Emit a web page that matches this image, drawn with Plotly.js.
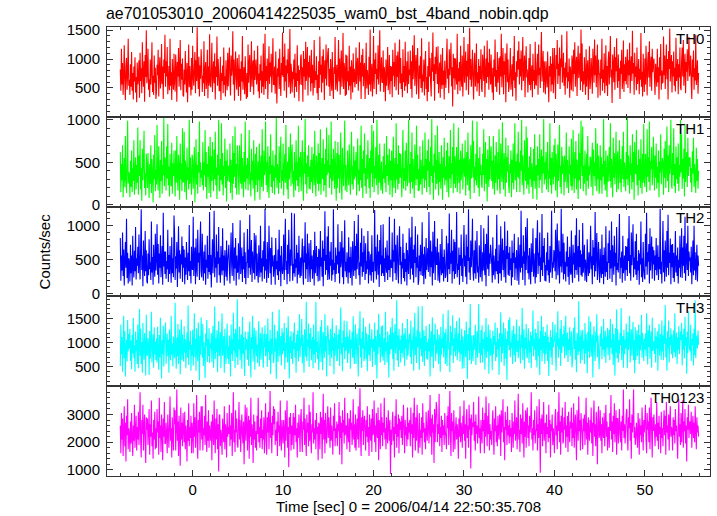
<!DOCTYPE html>
<html><head><meta charset="utf-8">
<script src="https://cdn.plot.ly/plotly-3.0.1.min.js"></script>
<style>html,body{margin:0;padding:0;background:#fff}#plot{width:717px;height:516px}</style>
</head><body><div id="plot"></div>
<script>
// bin layout of the light curve (seconds)
const tStart = -8.0;
const binWidth = 0.0625;

const bandNames = ["TH0", "TH1", "TH2", "TH3", "TH0123"];
const bandColors = ["#ff0000", "#00ff00", "#0000ff", "#00ffff", "#ff00ff"];
const plotTitle = "ae701053010_20060414225035_wam0_bst_4band_nobin.qdp";
const xTitle = "Time [sec] 0 = 2006/04/14 22:50:35.708";
const yTitle = "Counts/sec";

const th0 = [
820,450,1180,560,930,380,710,1240,610,290,880,1020,470,760,1350,540,
640,380,910,520,1120,450,760,300,870,610,1030,420,690,250,940,560,
680,980,330,1110,620,840,410,1290,750,520,960,260,1070,690,1500,580,
780,1180,470,650,340,990,560,820,1290,430,710,380,1060,590,850,310,
430,900,720,1160,350,810,1030,490,640,1260,570,870,310,990,760,1420,
520,960,700,1210,390,610,880,460,1350,540,770,290,1000,630,470,1090,
600,440,1080,830,260,950,700,1190,520,780,1330,460,920,640,1010,370,
350,820,560,1140,680,420,930,250,740,1250,510,880,600,370,1020,470,
1230,690,540,860,1120,410,980,620,1550,730,480,1040,350,890,660,1170,
900,430,710,580,1310,360,800,950,480,660,1160,320,870,540,1430,610,
510,800,1280,430,740,960,580,1100,300,870,690,1390,540,1000,780,450,
450,1040,290,760,620,890,410,1200,550,700,350,980,670,460,1110,530,
930,1200,620,370,1060,710,840,1480,560,990,280,820,1130,650,470,1020,
740,360,1080,520,830,280,960,610,1400,470,720,860,390,1050,580,310,
760,340,1250,590,910,1070,430,700,1310,520,850,980,380,1150,640,790,
990,560,680,1230,440,750,320,910,630,1060,410,790,520,1270,380,680,
1440,480,880,620,1010,310,760,1220,570,940,700,1090,420,830,1360,560,
560,870,400,1130,610,230,840,700,1010,480,1180,590,360,930,720,1460,
690,1040,450,1270,610,890,330,990,750,1180,510,640,1520,400,920,780,
420,780,650,990,330,1090,520,760,430,1240,620,890,270,810,560,1020,
1080,550,860,260,1140,700,1000,470,1300,620,810,1210,370,950,680,1060,
710,440,1160,580,900,370,680,1330,500,790,640,1050,410,730,290,960,
500,1390,730,900,420,1050,590,1170,820,290,980,660,1250,540,870,1110,
1190,520,830,360,1000,690,450,1120,580,310,860,740,1380,470,650,900,
440,760,1330,610,1010,380,860,1150,520,720,1450,480,930,800,360,1080,
380,1060,610,790,460,1230,540,870,300,980,720,420,1100,600,830,510,
640,1200,570,890,1020,450,780,1290,610,940,310,1070,700,1180,530,860,
930,310,700,1280,490,810,650,380,1040,560,1510,440,760,920,350,680,
1400,480,990,740,1110,390,830,650,1240,560,920,1500,440,760,1030,600,
590,1150,430,860,720,270,990,540,780,1210,460,640,1070,390,880,620,
870,340,1160,710,950,520,1280,800,460,1060,690,1130,380,910,1340,580,
1020,480,750,340,1170,600,880,450,1300,530,700,960,410,1130,570,820,
720,1150,480,960,330,1240,650,870,1410,540,800,1070,390,930,1190,610,
310,890,660,1050,500,1360,420,730,610,990,370,850,1140,480,690,270,
880,430,1300,700,1020,560,350,1110,780,1460,620,910,280,1040,740,1210,
860,570,1220,410,760,940,330,1080,620,480,1190,550,800,300,970,640,
500,990,1350,660,830,410,1170,720,950,1280,530,860,180,1090,670,1020,
470,1010,720,560,1440,390,840,610,950,450,1230,680,520,1060,350,780,
1380,590,820,1130,460,970,700,1260,380,850,1540,640,1000,520,780,1160,
640,300,930,1110,520,690,1270,440,770,580,1000,360,880,650,1170,490,
430,1080,900,620,1230,340,760,1010,580,1320,690,940,470,1180,810,560,
1080,610,420,850,290,990,700,1340,520,810,430,1120,590,740,1020,380,
1050,700,1440,510,880,1190,390,960,730,1100,250,870,1270,600,990,430,
530,800,1190,470,660,910,350,1050,630,1400,500,770,280,960,690,1150,
820,1310,560,1000,700,1150,460,890,1380,620,770,1060,340,930,1220,680,
820,420,670,1020,550,1260,460,730,890,340,1090,620,810,480,1300,570,
540,910,1090,380,1250,720,850,500,1030,1470,610,800,1140,420,960,740,
390,960,720,510,1130,630,250,880,700,1050,440,920,560,1190,410,750,
1190,650,310,1070,830,1330,570,920,710,1200,480,1010,860,1420,590,780,
1110,540,850,380,940,680,1480,490,770,610,1010,330,870,720,460,1060,
970,440,1160,740,1290,520,880,1040,360,940,1230,670,810,1100,460,1510,
610,1270,430,790,560,1030,700,380,1170,520,840,980,290,760,1220,480,
630,1020,780,400,1180,900,590,1340,720,1060,510,870,1250,330,990,760,
730,370,990,660,1350,450,820,590,1100,410,700,1240,540,880,360,950,
1130,560,950,1400,680,820,240,1080,910,600,1210,470,1030,790,1360,640,
500,1080,620,840,310,970,740,1160,480,650,1320,430,910,620,1040,560,
850,1170,500,980,720,1280,410,890,1050,620,1490,750,930,380,1110,690,
870,460,1200,570,710,1000,390,830,640,1450,520,780,350,1090,680,430,
1010,560,1230,800,370,960,1120,680,1310,520,870,1040,450,1180,770,940,
1010,640,380,920,770,520,1180,600,860,300,1030,710,1260,470,800,580,
600,1390,720,1060,480,890,1250,650,1000,300,1140,830,1530,610,920,1070,
420,960,700,1130,540,850,440,1370,620,760,1000,390,910,680,1200,510,
460,980,1200,700,1330,540,860,1090,410,950,780,1170,620,1020,1380,700,
780,1060,560,310,990,690,1150,470,840,630,1420,550,720,980,400,760];

const th1 = [
620,150,480,290,700,90,360,550,210,810,320,140,460,990,250,390,
340,90,520,210,640,150,430,280,760,120,390,560,180,470,260,910,
120,580,340,760,180,430,50,660,290,520,870,200,370,110,600,450,
200,610,330,80,480,250,700,140,540,370,30,590,300,820,160,420,
240,940,310,170,690,400,80,530,280,750,130,470,350,1020,220,560,
510,170,690,310,950,230,450,100,600,380,220,730,130,490,340,640,
380,100,640,260,810,330,170,590,440,60,720,300,490,160,900,270,
270,860,150,520,380,60,670,290,440,180,1000,250,560,310,120,590,
530,190,410,680,30,350,770,240,470,130,620,380,980,210,500,320,
410,230,740,170,500,350,880,210,620,70,480,330,690,140,410,800,
90,570,280,740,410,160,650,300,860,230,440,70,590,350,1000,180,
160,540,290,960,240,610,110,460,340,780,200,520,40,650,280,430,
460,270,720,140,530,390,60,810,250,610,330,920,200,480,120,700,
600,310,120,700,420,250,840,190,550,360,90,620,270,980,180,470,
310,550,170,430,880,240,380,100,660,290,520,190,760,340,50,600,
230,680,380,150,510,290,720,60,430,580,210,890,330,160,640,350,
420,980,230,500,150,690,310,80,570,360,830,210,470,140,640,280,
450,120,590,320,1020,200,480,370,130,690,260,540,800,190,410,280,
720,110,390,600,260,940,330,180,510,70,680,300,450,840,220,560,
710,250,400,90,620,350,170,760,290,500,220,930,150,560,330,620,
160,430,760,290,50,620,370,1010,240,490,130,580,330,700,190,450,
180,530,270,680,140,450,600,230,870,310,100,580,390,250,720,160,
610,250,890,120,400,550,300,770,160,480,230,660,90,910,350,520,
380,820,200,470,310,980,120,540,280,660,420,190,750,340,50,610,
200,740,310,590,140,430,850,260,60,670,380,220,560,990,170,470,
290,150,640,400,230,710,350,120,530,860,240,460,180,690,300,520,
330,620,110,500,780,240,410,160,700,290,930,200,540,80,640,370,
840,220,430,130,590,300,760,410,200,550,80,640,370,940,210,480,
870,150,460,310,680,230,1000,380,120,590,260,720,340,170,510,260,
130,570,310,720,260,470,150,810,340,590,230,400,660,120,520,290,
640,90,430,800,200,360,550,140,960,300,480,180,700,250,610,320,
600,360,90,500,880,190,430,280,640,170,730,350,220,580,1000,260,
480,130,620,270,850,190,540,360,80,710,420,230,930,300,590,160,
420,170,690,240,530,380,120,760,310,460,200,850,290,540,150,640,
400,770,210,510,120,680,340,1010,260,460,60,600,380,820,180,530,
250,930,340,110,620,270,480,190,700,410,60,560,320,790,230,450,
290,640,150,730,420,90,570,310,880,200,490,360,680,140,960,250,
570,200,470,680,150,390,910,260,530,130,640,290,410,720,180,510,
550,330,760,110,470,620,230,850,390,170,540,70,700,310,460,990,
320,750,140,450,290,600,230,980,370,200,550,100,680,350,470,240,
200,600,350,890,160,420,740,250,540,40,650,380,210,810,300,580,
690,280,520,190,810,330,120,580,260,740,400,170,620,300,890,210,
130,720,440,270,970,350,180,610,480,100,790,260,560,390,700,220,
140,480,370,640,90,530,260,720,180,430,960,290,510,150,600,330,
860,310,500,150,640,400,1000,230,580,320,120,760,450,280,920,190,
790,240,440,130,570,300,680,210,490,360,70,660,280,830,190,420,
470,60,690,350,540,200,830,290,410,650,140,570,370,1010,240,500,
300,620,180,500,740,150,400,310,960,230,550,130,620,380,240,700,
330,780,170,600,420,90,710,280,510,940,210,460,130,680,360,570,
450,110,580,270,420,850,200,530,310,140,690,360,470,220,780,170,
250,880,390,140,620,310,750,180,530,400,70,840,290,610,190,990,
520,340,920,160,460,250,640,390,110,600,280,810,190,450,350,560,
560,210,470,730,110,650,340,500,220,900,380,160,720,300,580,130,
210,700,290,560,130,480,330,1010,240,520,170,640,310,90,580,270,
440,680,280,960,200,540,370,90,790,320,610,240,460,860,150,520,
630,180,420,760,260,540,150,430,690,300,860,210,500,380,160,620,
300,1020,230,580,400,130,700,350,490,180,830,270,620,60,740,390,
360,880,230,470,110,650,290,540,200,770,340,130,600,260,950,310,
210,600,460,150,890,330,560,270,980,170,510,420,680,230,370,800,
480,170,580,320,720,190,450,260,640,90,510,380,830,240,420,550,
490,120,660,320,750,200,430,920,280,580,150,700,360,470,1000,240,
190,610,350,900,220,480,140,690,300,560,250,720,160,470,330,1000,
380,830,190,540,310,660,100,950,270,490,620,210,790,340,560,450,
560,260,430,150,630,370,790,210,480,320,140,670,280,540,190,400];

const th2 = [
820,190,560,340,900,260,650,120,480,760,380,1100,230,600,150,520,
460,180,720,300,560,120,850,390,240,630,330,980,210,520,410,690,
300,870,420,210,690,1240,350,560,110,780,440,260,920,330,640,180,
150,590,270,800,360,460,200,1060,310,540,130,720,400,250,880,340,
510,1020,280,730,150,590,380,860,240,470,700,130,1190,400,620,290,
620,220,480,360,940,170,570,290,700,420,160,830,300,520,240,1150,
880,200,550,370,760,100,490,990,310,640,220,580,430,840,170,700,
380,650,140,530,280,760,450,200,600,330,1010,260,480,150,690,370,
350,1130,260,520,680,140,810,390,250,940,460,600,200,730,1060,330,
240,880,410,190,620,300,720,130,500,380,850,220,570,320,1200,280,
570,90,480,800,300,660,1220,240,530,380,870,160,620,440,980,270,
530,160,700,390,270,960,340,560,120,640,430,250,780,190,470,600,
720,350,150,590,900,410,260,1040,500,190,680,370,820,120,560,310,
320,740,210,500,1080,290,420,680,170,550,360,900,230,610,140,450,
460,950,230,650,380,1160,280,540,790,170,620,420,300,890,210,700,
860,260,590,340,160,710,440,240,1000,310,520,180,640,400,770,220,
1250,340,510,160,760,440,230,1000,580,300,670,130,830,400,560,250,
410,570,130,820,360,480,270,650,200,940,330,560,110,700,380,290,
380,870,200,610,1100,350,480,140,720,290,940,520,180,650,410,1190,
620,190,440,300,1180,250,510,380,720,150,600,280,850,340,230,530,
260,560,810,330,130,700,460,1050,220,590,360,880,170,520,740,300,
170,790,360,560,220,450,640,120,910,300,480,700,260,540,180,660,
610,190,920,400,530,250,780,110,660,480,1210,280,570,350,840,200,
990,330,210,620,410,760,190,500,280,1240,350,450,170,680,290,560,
430,1020,300,620,150,760,390,500,920,240,680,140,550,1080,330,470,
240,610,420,150,830,310,540,230,690,380,120,770,450,260,1070,340,
700,220,880,360,590,1160,270,460,130,750,400,960,250,610,320,850,
550,200,740,290,480,360,920,150,620,410,270,580,190,860,320,470,
160,540,1230,330,690,210,470,870,280,620,100,790,430,1010,260,560,
300,1020,260,520,170,680,430,310,780,200,560,350,1130,240,500,390,
380,900,180,640,470,1100,300,720,200,560,860,340,150,680,990,420,
690,140,470,370,880,230,600,180,510,320,750,120,640,410,290,960,
590,210,830,370,1130,280,650,160,720,450,990,240,540,380,870,130,
200,560,330,720,270,450,1050,260,580,140,690,380,220,820,350,500,
670,320,1200,460,250,780,390,620,120,910,300,560,1070,200,690,430,
430,810,190,610,340,160,730,420,270,950,300,540,180,650,460,230,
280,850,510,170,740,360,1180,290,600,440,940,150,630,330,800,220,
760,290,500,1200,240,440,350,680,130,570,410,870,260,520,170,620,
1010,400,560,250,870,140,690,480,1240,310,530,200,780,390,650,1100,
340,190,640,300,780,220,490,920,310,400,160,710,550,240,1010,380,
180,610,340,960,420,270,730,110,880,500,360,1150,260,590,440,720,
590,440,160,830,270,560,380,210,660,330,1160,290,480,150,720,310,
300,990,190,560,810,350,640,240,1060,420,160,700,510,930,280,600,
260,690,350,520,120,780,240,600,450,880,200,530,370,640,190,470,
830,130,470,720,310,1220,380,550,200,860,440,620,120,980,350,690,
1110,300,560,210,670,390,140,740,320,480,960,250,590,360,150,820,
240,760,1080,290,600,410,900,170,530,350,1170,260,700,460,820,190,
420,180,610,340,900,270,500,160,700,310,550,1220,230,460,380,640,
570,330,940,210,680,1030,270,490,780,150,620,400,1250,310,540,880,
210,750,290,470,180,620,400,840,250,540,130,690,350,280,930,330,
160,720,430,600,230,860,350,1110,280,520,700,180,940,390,640,270,
580,250,1040,310,440,720,190,500,370,170,800,430,260,610,300,510,
1000,360,550,140,790,420,680,250,1200,330,590,890,200,480,760,310,
160,660,360,230,870,290,570,140,680,410,250,990,320,470,200,740,
450,930,220,640,370,1060,170,710,510,280,850,400,600,120,980,350,
450,310,720,1170,220,530,380,620,160,850,300,420,560,190,700,350,
690,260,810,480,1140,300,570,190,900,420,650,1020,240,530,360,770,
280,880,200,480,340,640,130,590,430,1060,240,520,170,760,380,260,
210,880,400,1190,280,610,470,730,150,960,340,560,840,220,690,430,
640,190,560,350,820,270,450,710,200,540,360,1250,290,470,150,620,
1070,310,640,180,780,500,250,920,380,1160,270,600,450,810,140,720,
390,730,230,600,170,480,920,310,560,260,680,150,500,380,850,240,
520,960,230,680,410,850,300,1130,190,570,740,350,1000,260,620,480,
530,310,690,140,450,780,270,1000,340,610,200,430,720,180,560,410];

const th3 = [
520,1380,760,1120,400,950,1560,680,1240,300,880,1060,610,1470,820,1180,
880,1290,620,1040,450,1160,780,1510,690,950,400,1230,820,1060,560,1380,
470,990,1700,730,1290,560,1010,380,1410,860,650,1200,940,320,1580,780,
730,1100,940,330,1250,670,1000,1640,590,880,1170,480,1320,760,1020,640,
1090,590,1330,830,440,1160,700,1520,900,260,1050,760,1350,510,970,1240,
1420,560,910,1190,720,1060,380,1280,840,640,1560,750,980,510,1130,870,
680,1830,840,460,1110,720,1390,560,1000,1280,350,910,1480,640,1170,790,
610,1340,800,1080,470,920,1210,690,1770,540,1030,860,1250,420,960,730,
1270,530,960,1610,700,1080,420,1300,870,620,1420,980,220,1140,750,1530,
1150,690,1390,520,1010,810,270,1190,930,1470,600,1080,720,1300,580,990,
880,1200,600,1050,1350,480,930,1750,660,1090,810,1260,390,1010,1450,720,
820,1220,470,1050,1610,730,900,1140,380,1290,790,560,1040,1400,670,920,
560,1150,980,300,1380,760,1070,620,1620,840,1190,470,1290,900,700,1900,
540,1060,860,1330,640,980,1170,460,1540,770,1120,690,310,1230,850,1080,
990,650,1230,520,1060,1440,780,280,1120,870,1560,610,980,1310,440,1040,
1260,720,960,580,1110,1450,510,890,1200,650,1010,1320,740,480,1180,900,
1360,720,900,1180,500,1500,810,1030,640,1270,350,1090,760,1640,920,580,
690,1380,820,1090,250,970,1250,600,1030,1690,720,880,1140,530,1300,760,
1210,830,1410,450,1000,700,1310,1080,590,1550,880,260,1130,790,1240,670,
1040,560,1210,870,1420,690,1000,380,1170,830,1260,610,950,1590,700,1090,
940,1490,570,1160,860,380,1280,1010,710,1850,620,1060,920,1400,500,1190,
870,1310,640,990,1120,470,1380,760,1060,580,1850,810,1020,660,1240,430,
750,1050,1330,600,1470,880,430,1220,980,690,1590,820,1140,300,1010,1360,
1180,750,1060,520,1290,900,680,1500,840,1110,350,1200,730,970,1360,620,
640,1170,870,1280,520,1080,1730,760,990,410,1250,900,1460,660,1120,830,
930,1450,580,1130,780,1010,1270,460,1060,880,1220,690,1550,800,560,1110,
1380,560,1020,1190,740,300,1300,950,1650,700,1090,480,1230,880,1520,620,
700,1020,1330,660,1190,410,970,1160,740,1400,620,1080,900,1280,500,1050,
1070,820,1420,540,1140,990,260,1270,760,1600,910,1180,590,1030,1340,710,
1360,630,900,1100,540,1640,820,1010,590,1230,960,280,1170,760,1320,870,
880,1510,660,1210,420,1090,1390,780,980,1880,640,1150,500,1290,850,1060,
590,1150,790,1410,690,1040,1190,520,1300,880,1070,650,1490,730,980,1120,
1190,700,1460,560,1050,860,1320,420,980,1620,740,1130,580,1260,900,1750,
1020,440,1230,860,1090,720,1760,600,950,1260,520,1140,830,1350,670,1010,
650,1080,820,1390,300,1010,1240,710,1530,880,470,1170,960,1400,620,1060,
780,1280,940,560,1170,1010,400,1330,750,1080,890,1600,700,1000,1210,560,
1290,780,520,1110,1680,860,1000,390,1350,740,1220,940,1570,580,1090,820,
1310,720,1060,1450,640,980,1190,800,1520,610,1050,760,1290,460,1130,900,
470,1260,1030,700,1440,910,250,1180,840,1310,640,1800,990,560,1150,770,
620,1160,850,1020,1370,540,920,1240,690,1110,1800,790,1000,580,1260,740,
1360,590,1070,880,1230,440,960,1510,690,1120,820,1380,360,1010,1270,730,
1090,880,430,1250,760,1140,960,1420,620,1020,700,1310,860,1080,330,1200,
920,1630,600,1190,780,1050,1420,520,890,1300,670,1080,230,1240,950,1470,
850,1530,700,1010,890,1260,560,1090,1350,740,1180,600,960,1480,810,1040,
680,1020,1340,810,570,1160,900,1720,640,1060,1280,460,1110,870,1390,740,
680,1120,1300,580,1040,800,1230,470,1150,930,1670,720,1070,860,1290,640,
1200,490,980,1450,720,1090,330,1250,850,1560,610,1000,1330,780,1140,560,
1230,760,950,1380,620,1130,310,1010,840,1260,700,1120,540,1430,900,1060,
1030,1380,760,420,1210,930,1650,690,1080,860,1290,520,1470,790,1020,1180,
920,1350,680,1090,1560,740,990,1210,600,1070,850,1320,720,1000,1240,490,
610,1100,1310,870,1530,650,1040,390,1200,960,740,1860,820,1130,570,1260,
1110,640,1270,870,1040,560,1410,780,1180,940,370,1230,820,1550,690,1030,
1440,710,980,1170,280,1070,1340,830,620,1230,1010,1590,700,1150,880,450,
760,1190,930,1340,660,1080,860,1490,710,1020,1250,580,1130,900,1310,740,
1080,1270,640,1490,900,1060,760,1390,540,1180,940,320,1300,800,1690,680,
1280,590,1050,780,1200,950,1720,640,1010,1140,480,1270,760,1060,880,1400,
1000,470,1220,850,1140,1560,590,960,1280,730,1100,1430,640,1050,370,1320,
640,1080,1260,720,990,1370,560,1160,840,1040,1580,690,1200,930,620,1090,
860,1190,720,1610,1000,550,1260,910,1370,670,1070,1230,480,1520,830,1010,
1020,770,1310,590,1130,880,1240,420,1060,1390,730,970,1180,650,1460,820,
1150,640,1350,980,1780,700,1090,420,1240,880,1460,590,1120,950,1300,760,
1170,680,940,1260,800,1610,700,1050,1210,560,1110,860,1340,760,1000,1230,
1060,1410,530,1170,860,1290,680,1540,940,1110,360,1230,790,1650,1000,880,
820,1370,620,1080,950,1190,530,1290,740,1880,680,1020,1150,880,1260,960];

const th0123 = [
2600,1600,3050,2100,2850,1500,2400,3300,1850,2700,1300,2950,2250,3550,1750,2500,
2300,1650,2750,1950,3050,2150,1500,2600,2050,3350,1800,2450,2950,1700,2550,2100,
3100,1900,2650,3800,2050,1450,2800,2300,3350,1700,2550,3000,2000,1250,2900,2450,
2850,1900,2400,3200,1550,2650,2200,3500,1850,2350,1400,2800,2100,3100,1750,2500,
1800,3200,2350,2750,1550,3600,2150,2600,1650,3000,2400,1350,2850,2200,3450,1950,
1950,2700,2250,1600,3000,2400,1800,2650,3650,2050,2500,1450,2900,2200,1700,3250,
2650,3150,1700,2500,3900,2050,2750,1500,2950,2300,1150,3250,2100,2700,1850,3050,
2450,2000,3100,1750,2600,2300,1300,2800,2050,3400,1850,2550,2150,2950,1600,2700,
2400,1600,3400,2200,2900,1800,2550,3700,2000,1400,2800,2350,3100,1700,2600,3300,
2100,3300,1700,2500,2250,2950,1900,3700,2350,1650,2750,2050,3150,1800,2600,2300,
2050,2750,1350,3000,2450,1900,3500,2250,1600,2850,2100,3200,1750,2650,940,2950,
3000,1850,2450,2150,1550,2850,2300,2000,3300,1750,2650,2400,1450,3050,2200,2550,
2300,3350,1850,2600,2100,3050,1500,2700,3800,2000,2450,1650,3150,2350,2850,1950,
1800,2600,3450,2100,2800,1650,2400,3000,2250,1950,2750,1200,2500,3350,2050,2700,
3250,1700,2550,2950,1400,2800,2200,3600,1900,2650,2400,1250,3000,2100,2750,1800,
2400,1700,2950,2300,3600,2000,2550,1800,2850,2150,3150,1750,2450,2100,2900,1600,
2500,3400,2050,1550,2900,2350,3100,1750,2600,3850,2150,2700,1600,2950,2250,3300,
2650,3200,1900,2450,2050,2750,1500,3100,2350,2600,1850,3500,2200,1700,2800,2400,
1950,2800,2400,1450,3150,2050,2650,3500,1800,2550,1100,2900,2300,3050,1700,2600,
1900,2550,3050,1750,2900,2250,3350,2000,2500,1450,2700,2150,3000,2400,1650,2850,
3200,2150,1650,2750,2450,3600,1900,2850,2200,1500,3000,2350,2700,1850,3350,2050,
3100,2200,1600,2650,2350,3800,1950,2500,2100,2800,1750,3050,2300,2550,1350,2700,
2600,1750,3100,2300,2900,1400,2550,3750,2100,2800,1600,3050,2250,1950,2700,3300,
2150,2900,2400,1800,3250,2050,2600,2250,1550,2950,2400,3400,1850,2500,2150,2750,
1850,2650,2400,3450,1550,2950,2150,2700,1200,3150,2350,2800,1950,3600,2250,2550,
2600,1750,3050,2300,2000,2850,1650,3150,2450,2700,1900,2350,3550,2100,2650,1800,
3000,1700,2500,2850,2100,3300,1800,2650,3950,2200,1500,2900,2400,3150,1900,2750,
2950,2400,1700,2800,2200,3300,2000,2550,1500,3000,2300,2050,2850,1650,3200,2250,
2350,3500,2000,2600,1650,3050,2450,2150,3250,1350,2800,2550,1750,3400,2250,2900,
1850,2700,2350,3600,2100,2500,1750,2900,2250,1950,3150,2600,2050,2800,850,2450,
1900,2700,3100,2050,2550,1450,2950,2300,3550,1800,2650,2200,3000,1600,2850,2450,
2750,2150,2950,1900,2650,3350,2400,1600,2800,2250,2550,1850,3250,2100,2700,2350,
2800,1850,3250,2300,2650,1450,3050,2150,3600,2450,1700,2900,2050,3350,2550,1600,
2200,3050,1800,2450,2150,2900,1550,3400,2350,2700,2000,2500,1750,3100,2400,2050,
2700,3150,1950,2400,3700,2200,2850,1550,3000,2350,2650,1250,3200,2000,2800,3450,
3200,2000,2650,2300,3750,1850,2550,2150,2950,1650,2800,2250,2600,1900,3050,2400,
2150,1750,2950,2500,3300,1900,2600,3850,2250,1500,3050,2400,2750,1650,3150,2300,
1750,2500,2900,2100,2650,2350,1400,2850,2200,3300,2000,2700,2450,1800,2950,2300,
3500,2050,2650,1400,2900,3200,2150,2600,1800,3350,2450,2850,1050,3000,2250,2700,
2550,3450,2050,2750,1700,3000,2300,2600,1950,2450,3650,2150,2500,1600,2800,2250,
1950,3250,2400,2800,1600,3050,2200,3650,2500,1850,2950,2300,3400,1700,2650,2100,
2400,1900,2700,3150,2250,1550,2850,2400,3300,2000,2600,1850,2950,2350,2100,3000,
2900,1500,3150,2350,2700,3550,2000,2550,1350,3100,2450,2800,1900,3300,2250,2600,
1950,2800,2200,2500,1650,3050,2450,1800,2750,2300,3500,2050,2400,2900,1750,2600,
3750,2100,2450,1650,3000,2300,2850,1950,3400,2550,1450,2750,2200,3150,1800,2950,
3250,2150,2600,1850,2950,2350,2700,3800,2100,2500,1700,2800,2250,3150,1950,2450,
2400,3300,1700,2650,2150,3550,2500,900,2850,2300,3000,1850,2700,3450,2050,2550,
2700,1600,3000,2300,2550,2000,3350,2150,2800,1450,2650,2400,3000,1900,2500,2200,
1600,2900,3200,2250,2600,1750,3100,2400,3800,2000,2750,1550,2950,2350,3250,1950,
2050,2900,2450,3450,1800,2600,2200,2950,1650,3100,2350,2000,2750,2500,3250,1850,
2700,2150,3400,1800,2550,3000,2250,1350,3150,2600,2050,3650,2400,2800,1700,3050,
2600,2250,1750,2850,2400,3000,1900,2550,3600,2100,2700,1550,2900,2300,2050,2800,
2350,3250,1950,2700,1500,2900,3500,2200,2650,1850,3100,2450,1200,2850,3300,2150,
2300,3150,2050,2650,1600,2900,2450,2150,3050,1850,2600,3350,2200,2750,1700,2500,
2550,1800,3050,2400,3700,2100,2750,1650,2950,2300,3400,2000,2600,3150,1550,2850,
2850,1950,2550,3200,2300,2000,2750,1700,2950,2400,3900,2150,2650,1950,2450,3050,
3200,2250,1700,2900,2500,3550,2050,2700,1400,3000,2350,2800,3900,2150,2550,1900,
2150,2700,2350,1800,3050,2500,1550,2850,2250,2600,2000,3250,2450,1700,2800,2350,
2800,3350,2100,1600,3050,2450,2750,2000,3250,1750,2650,3600,2300,1450,2900,2400,
3000,2400,1850,2650,2200,3450,2050,2700,1750,2950,2300,2550,1600,3100,2150,2500,
1850,2700,3150,2250,2950,1550,3450,2350,2600,2100,3000,1700,2800,3300,2200,2550,
2450,1700,2900,2250,2800,1950,3200,2400,2600,2100,1400,2750,3550,2200,2650,1900,
3050,2000,2650,3500,1800,2750,2400,3200,1950,2600,1300,2900,2450,3350,2150,2700,
2750,2300,3100,1800,2550,2950,2150,2700,2000,3300,2450,1750,2900,2350,2600,2200];

const series = [th0, th1, th2, th3, th0123];
const yRanges = [[0, 1555], [-20, 1035], [-40, 1280], [100, 1960], [780, 4020]];
const yTicks = [[500, 1000, 1500], [0, 500, 1000], [0, 500, 1000], [500, 1000, 1500], [1000, 2000, 3000]];
const yMinor = [100, 100, 100, 100, 200];
const xRange = [-9.47, 57.2];
const xTicks = [0, 10, 20, 30, 40, 50];

const fam = "Liberation Sans, Arial, sans-serif";
const font = {family: fam, size: 15, color: "#000"};
const traces = [];
const layout = {
  width: 717, height: 516,
  margin: {l: 107, r: 7, t: 27, b: 40},
  paper_bgcolor: "#fff", plot_bgcolor: "#fff",
  showlegend: false,
  font: font,
  annotations: [],
  shapes: []
};

const n = series.length;
for (let i = 0; i < n; i++) {
  const vals = series[i];
  const t = vals.map((_, k) => tStart + k * binWidth);
  const sfx = i === 0 ? "" : String(i + 1);
  traces.push({
    type: "scatter", mode: "lines", x: t, y: vals,
    xaxis: "x" + sfx, yaxis: "y" + sfx,
    line: {color: bandColors[i], width: 1.1, simplify: false},
    hoverinfo: "skip"
  });
  const top = 1 - i / n, bot = 1 - (i + 1) / n;
  layout["yaxis" + sfx] = {
    domain: [bot, top], range: yRanges[i], anchor: "x" + sfx,
    tickmode: "array", tickvals: yTicks[i], ticks: "inside", ticklen: 6, tickwidth: 1, tickcolor: "#333",
    minor: {dtick: yMinor[i], tick0: 0, ticks: "inside", ticklen: 3, tickcolor: "#333", showgrid: false},
    showline: true, linecolor: "#333", linewidth: 1, mirror: "allticks",
    ticklabelstandoff: 3,
    showgrid: false, zeroline: false, tickfont: font, fixedrange: true
  };
  layout["xaxis" + sfx] = {
    domain: [0, 1], range: xRange, anchor: "y" + sfx,
    tickmode: "array", tickvals: xTicks, ticks: "inside", ticklen: 6, tickwidth: 1, tickcolor: "#333",
    minor: {dtick: 2, tick0: 0, ticks: "inside", ticklen: 3, tickcolor: "#333", showgrid: false},
    showline: true, linecolor: "#333", linewidth: 1, mirror: "allticks",
    showticklabels: i === n - 1, showgrid: false, zeroline: false, tickfont: font, fixedrange: true
  };
  if (i > 0) layout["xaxis" + sfx].matches = "x";
  layout.annotations.push({
    text: bandNames[i], xref: "paper", yref: "paper", x: 0.993, y: top - 0.002,
    xanchor: "right", yanchor: "top", showarrow: false, font: {family: fam, size: 15, color: "#000"}
  });
}
layout.xaxis5.title = {text: xTitle, font: font, standoff: 2};
layout.annotations.push({
  text: yTitle, xref: "paper", yref: "paper", x: -0.103, y: 0.5, textangle: -90,
  xanchor: "center", yanchor: "middle", showarrow: false, font: font
});
layout.annotations.push({
  text: plotTitle, xref: "paper", yref: "paper", x: 0, y: 1 + 13 / 449,
  xanchor: "left", yanchor: "middle", showarrow: false, xshift: -3,
  font: {family: fam, size: 15.9, color: "#000"}
});

Plotly.newPlot("plot", traces, layout, {staticPlot: true, displayModeBar: false});
</script>
</body></html>
